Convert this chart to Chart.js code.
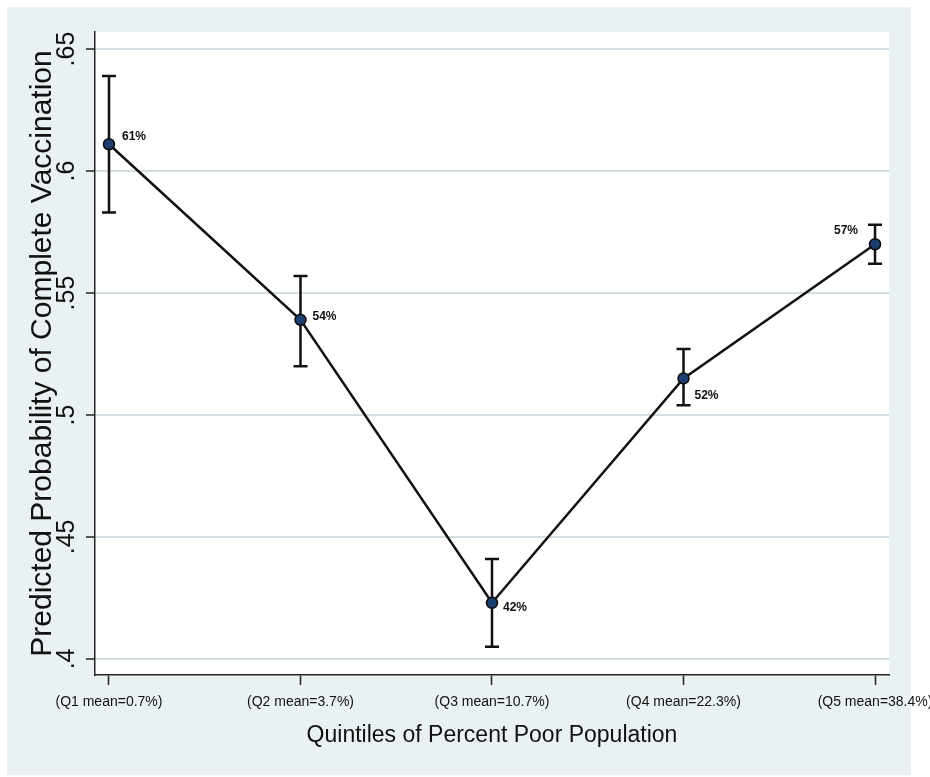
<!DOCTYPE html>
<html>
<head>
<meta charset="utf-8">
<script src="https://cdn.jsdelivr.net/npm/chart.js@4"></script>
<style>
  html, body { margin: 0; padding: 0; background: #ffffff; }
  canvas { display: block; }
</style>
</head>
<body>
<canvas id="chart" width="930" height="777"></canvas>
<script>
const categories = ["(Q1 mean=0.7%)", "(Q2 mean=3.7%)", "(Q3 mean=10.7%)", "(Q4 mean=22.3%)", "(Q5 mean=38.4%)"];
const xPositions = [1, 2, 3, 4, 5];

const predicted = [0.611, 0.539, 0.423, 0.515, 0.570];
const ciLow = [0.583, 0.520, 0.405, 0.504, 0.562];
const ciHigh = [0.639, 0.557, 0.441, 0.527, 0.578];
const pointLabels = ["61%", "54%", "42%", "52%", "57%"];

const yTickValues = [0.4, 0.45, 0.5, 0.55, 0.6, 0.65];
const yTickLabels = [".4", ".45", ".5", ".55", ".6", ".65"];

// where each percent label sits next to its point
const labelPlacement = [
    { dx: 13, dy: -8, align: "left" },
    { dx: 12, dy: -3, align: "left" },
    { dx: 11, dy: 5, align: "left" },
    { dx: 11, dy: 17, align: "left" },
    { dx: -17, dy: -14, align: "right" }
];

/* =========================
   background panel + white plot
========================= */
const panelPlugin = {
    id: "panel",
    beforeDraw(chart) {
        const { ctx, chartArea } = chart;
        ctx.save();
        ctx.fillStyle = "#e9f1f3";
        ctx.fillRect(7, 7, 904, 768);
        ctx.fillStyle = "#ffffff";
        ctx.fillRect(chartArea.left, chartArea.top,
            chartArea.right - chartArea.left, chartArea.bottom - chartArea.top);
        ctx.restore();
    }
};

/* =========================
   error bars (CI)
========================= */
const errorBarPlugin = {
    id: "errorBars",
    beforeDatasetsDraw(chart) {
        const ctx = chart.ctx;
        const xs = chart.scales.x;
        const ys = chart.scales.y;
        ctx.save();
        ctx.strokeStyle = "#111111";
        ctx.lineWidth = 2.5;
        xPositions.forEach((xv, i) => {
            const x = xs.getPixelForValue(xv);
            const yLo = ys.getPixelForValue(ciLow[i]);
            const yHi = ys.getPixelForValue(ciHigh[i]);
            ctx.beginPath();
            ctx.moveTo(x, yLo);
            ctx.lineTo(x, yHi);
            ctx.moveTo(x - 7, yLo);
            ctx.lineTo(x + 7, yLo);
            ctx.moveTo(x - 7, yHi);
            ctx.lineTo(x + 7, yHi);
            ctx.stroke();
        });
        ctx.restore();
    }
};

/* =========================
   percent labels
========================= */
const pointLabelPlugin = {
    id: "pointLabels",
    afterDatasetsDraw(chart) {
        const ctx = chart.ctx;
        const meta = chart.getDatasetMeta(0);
        ctx.save();
        ctx.font = "bold 12px 'Liberation Sans', Arial, sans-serif";
        ctx.fillStyle = "#111111";
        ctx.textBaseline = "middle";
        meta.data.forEach((pt, i) => {
            const p = labelPlacement[i];
            ctx.textAlign = p.align;
            ctx.fillText(pointLabels[i], pt.x + p.dx, pt.y + p.dy);
        });
        ctx.restore();
    }
};

const ctx = document.getElementById("chart");

const chart = new Chart(ctx, {
    type: "line",
    data: {
        datasets: [{
            data: xPositions.map((x, i) => ({ x: x, y: predicted[i] })),
            borderColor: "#111111",
            borderWidth: 2.5,
            pointRadius: 5.5,
            pointBackgroundColor: "#1d3f6e",
            pointBorderColor: "#0b0b0b",
            pointBorderWidth: 1.5,
            tension: 0,
            fill: false
        }]
    },
    options: {
        responsive: false,
        animation: false,
        devicePixelRatio: 1,
        layout: {
            padding: { top: 32, right: 41, left: 0, bottom: 0 }
        },
        plugins: {
            legend: { display: false },
            tooltip: { enabled: false }
        },
        scales: {
            x: {
                type: "linear",
                min: 0.927,
                max: 5.073,
                afterBuildTicks(scale) {
                    scale.ticks = xPositions.map(v => ({ value: v }));
                },
                afterFit(scale) {
                    scale.height = 102;
                    scale.paddingLeft = 0;
                    scale.paddingRight = 0;
                },
                grid: {
                    drawOnChartArea: false,
                    drawTicks: true,
                    tickLength: 10,
                    tickColor: "#222222",
                    tickWidth: 1.5
                },
                border: { display: true, color: "#222222", width: 1.5 },
                ticks: {
                    autoSkip: false,
                    maxRotation: 0,
                    padding: 9,
                    color: "#111111",
                    font: { family: "'Liberation Sans', Arial, sans-serif", size: 14 },
                    callback: (value) => categories[xPositions.indexOf(value)]
                },
                title: {
                    display: true,
                    text: "Quintiles of Percent Poor Population",
                    color: "#111111",
                    font: { family: "'Liberation Sans', Arial, sans-serif", size: 23 },
                    padding: { top: 0, bottom: 28 }
                }
            },
            y: {
                min: 0.3934,
                max: 0.657,
                afterBuildTicks(scale) {
                    scale.ticks = yTickValues.map(v => ({ value: v }));
                },
                afterFit(scale) {
                    scale.width = 95;
                    scale.paddingTop = 0;
                    scale.paddingBottom = 0;
                },
                grid: {
                    color: "#d2dee2",
                    lineWidth: 2,
                    tickLength: 9,
                    tickColor: "#222222",
                    tickWidth: 1.5
                },
                border: { display: true, color: "#222222", width: 1.5 },
                ticks: {
                    minRotation: 90,
                    maxRotation: 90,
                    crossAlign: "center",
                    padding: 2,
                    color: "#111111",
                    font: { family: "'Liberation Sans', Arial, sans-serif", size: 25 },
                    callback: (value) => yTickLabels[yTickValues.indexOf(value)]
                },
                title: {
                    display: true,
                    text: "Predicted Probability of Complete Vaccination",
                    color: "#111111",
                    font: { family: "'Liberation Sans', Arial, sans-serif", size: 30 },
                    padding: { top: 25, bottom: 0 }
                }
            }
        }
    },
    plugins: [panelPlugin, errorBarPlugin, pointLabelPlugin]
});
</script>
</body>
</html>
